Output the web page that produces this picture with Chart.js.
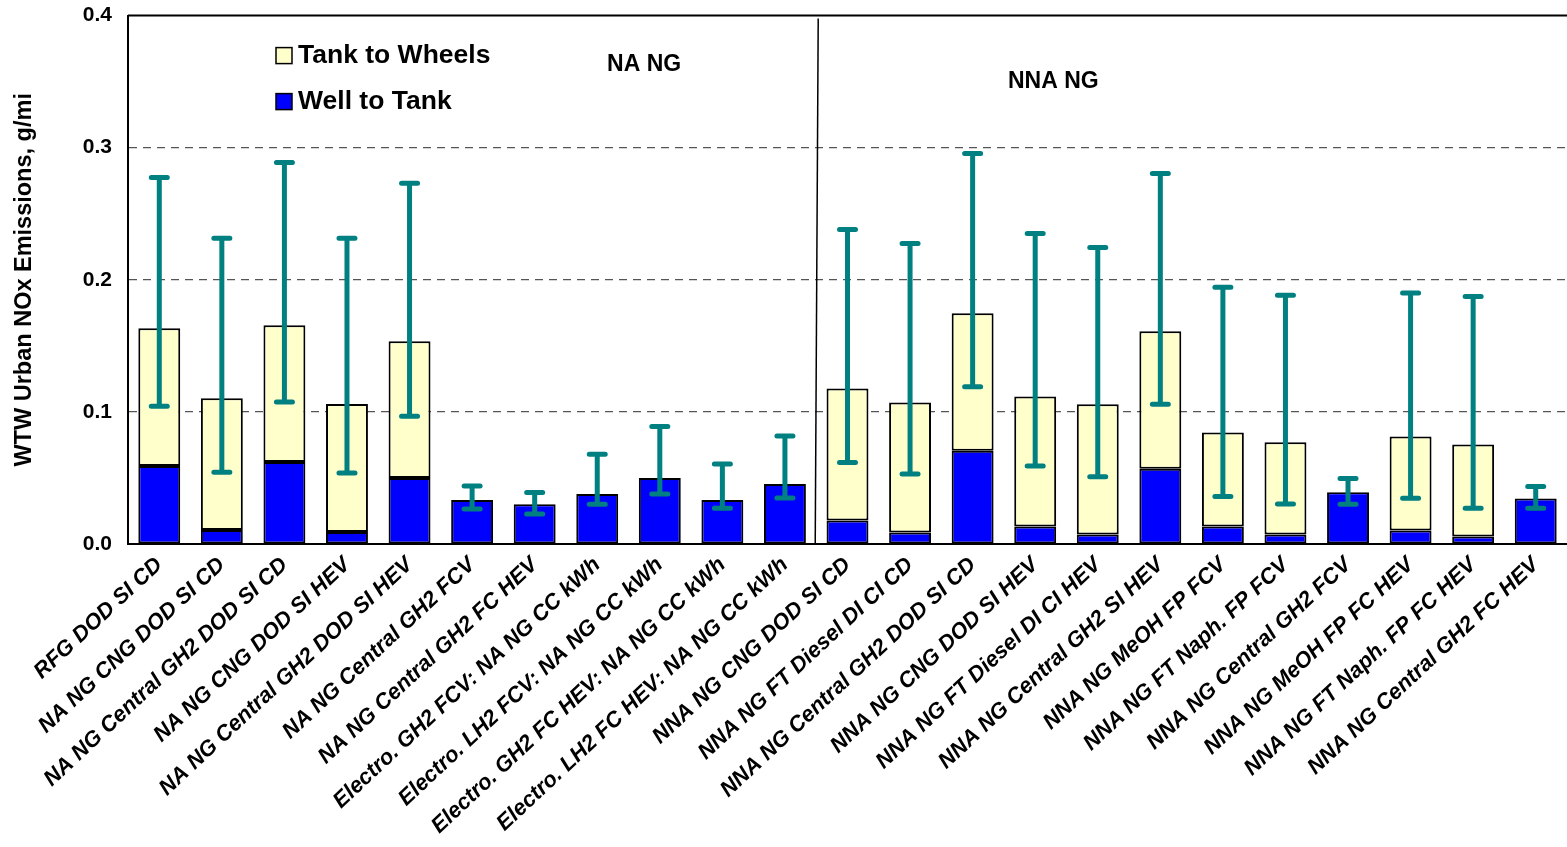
<!DOCTYPE html>
<html>
<head>
<meta charset="utf-8">
<title>WTW Urban NOx Emissions</title>
<script src="https://cdn.jsdelivr.net/npm/chart.js@4/dist/chart.umd.min.js"></script>
<style>
  html, body { margin: 0; padding: 0; background: #fff; overflow: hidden; }
  #wrap { width: 1567px; height: 847px; overflow: hidden; }
  /* chart.js keeps ~13px above the plot for the top tick label, so pull the canvas up */
  #noxChart { display: block; margin-top: -13px; }
</style>
</head>
<body>
<div id="wrap"><canvas id="noxChart" width="1567" height="860"></canvas></div>
<script>
// Pathway names along the x axis
const pathways = [
  "RFG DOD SI CD",
  "NA NG CNG DOD SI CD",
  "NA NG Central GH2 DOD SI CD",
  "NA NG CNG DOD SI HEV",
  "NA NG Central GH2 DOD SI HEV",
  "NA NG Central GH2 FCV",
  "NA NG Central GH2 FC HEV",
  "Electro. GH2 FCV: NA NG CC kWh",
  "Electro. LH2 FCV: NA NG CC kWh",
  "Electro. GH2 FC HEV: NA NG CC kWh",
  "Electro. LH2 FC HEV: NA NG CC kWh",
  "NNA NG CNG DOD SI CD",
  "NNA NG FT Diesel DI CI CD",
  "NNA NG Central GH2 DOD SI CD",
  "NNA NG CNG DOD SI HEV",
  "NNA NG FT Diesel DI CI HEV",
  "NNA NG Central GH2 SI HEV",
  "NNA NG MeOH FP FCV",
  "NNA NG FT Naph. FP FCV",
  "NNA NG Central GH2 FCV",
  "NNA NG MeOH FP FC HEV",
  "NNA NG FT Naph. FP FC HEV",
  "NNA NG Central GH2 FC HEV"
];

// Well to Tank part (bottom of each stack), g/mi
const wellToTank = [
  0.059, 0.0106, 0.062, 0.0091, 0.0499, 0.0333, 0.030, 0.0378, 0.050, 0.0333, 0.0454,
  0.0178, 0.0087, 0.0706, 0.0133, 0.0072, 0.057, 0.0133, 0.0072, 0.0392, 0.0102, 0.0057, 0.0345
];

// Tank to Wheels part (top of each stack), g/mi
const tankToWheels = [
  0.1043, 0.0998, 0.1036, 0.0968, 0.1036, 0, 0, 0, 0, 0, 0,
  0.100, 0.0985, 0.1041, 0.0984, 0.0985, 0.104, 0.0712, 0.0698, 0, 0.0712, 0.0697, 0
];

// Error bar range of the WTW total
const errLow = [
  0.1043, 0.0544, 0.1074, 0.0537, 0.0968, 0.0265, 0.0227, 0.030, 0.0378, 0.027, 0.0348,
  0.0617, 0.0529, 0.119, 0.059, 0.051, 0.1057, 0.036, 0.0302, 0.030, 0.0347, 0.027, 0.027
];
const errHigh = [
  0.2775, 0.2314, 0.2888, 0.2314, 0.273, 0.0439, 0.039, 0.068, 0.089, 0.0605, 0.0817,
  0.238, 0.2275, 0.2956, 0.235, 0.2245, 0.2805, 0.1943, 0.1883, 0.0496, 0.190, 0.1873, 0.0436
];

// y axis ticks
const yTicks = [0, 0.1, 0.2, 0.3, 0.4];

const FONT = "'Liberation Sans', Arial, Helvetica, sans-serif";
const TEAL = "#008080";

// Draws error bars, the NA / NNA divider, group labels, top frame and legend
const extrasPlugin = {
  id: "extras",
  afterDatasetsDraw(chart) {
    const ctx = chart.ctx;
    const x = chart.scales.x;
    const y = chart.scales.y;
    const area = chart.chartArea;

    // error bars
    ctx.save();
    ctx.strokeStyle = TEAL;
    ctx.lineCap = "round";
    ctx.lineWidth = 5;
    pathways.forEach((p, i) => {
      const px = x.getPixelForValue(i);
      const top = y.getPixelForValue(errHigh[i]);
      const bot = y.getPixelForValue(errLow[i]);
      ctx.beginPath();
      ctx.moveTo(px, top);
      ctx.lineTo(px, bot);
      ctx.moveTo(px - 8, top);
      ctx.lineTo(px + 8, top);
      ctx.moveTo(px - 8, bot);
      ctx.lineTo(px + 8, bot);
      ctx.stroke();
    });
    ctx.restore();

    // divider between the NA NG and NNA NG groups
    const divX = (x.getPixelForValue(10) + x.getPixelForValue(11)) / 2;
    ctx.save();
    ctx.strokeStyle = "#000";
    ctx.lineWidth = 1.5;
    ctx.beginPath();
    ctx.moveTo(divX + 2, area.top + 3);
    ctx.lineTo(divX - 1, area.bottom);
    ctx.stroke();

    // top frame line
    ctx.lineWidth = 2;
    ctx.beginPath();
    ctx.moveTo(area.left, area.top);
    ctx.lineTo(area.right, area.top);
    ctx.stroke();

    // group labels
    ctx.fillStyle = "#000";
    ctx.font = "bold 23px " + FONT;
    ctx.textAlign = "center";
    ctx.textBaseline = "middle";
    ctx.fillText("NA NG", x.getPixelForValue(7.75), y.getPixelForValue(0.3627));
    ctx.fillText("NNA NG", x.getPixelForValue(14.29), y.getPixelForValue(0.35));

    // legend, placed inside the plot near its top left
    const items = [
      { text: "Tank to Wheels", color: "#FFFFCC" },
      { text: "Well to Tank", color: "#0000FF" }
    ];
    ctx.font = "bold 26.5px " + FONT;
    ctx.textAlign = "left";
    items.forEach((item, k) => {
      const lx = area.left + 148;
      const ly = area.top + 40 + k * 46;
      ctx.fillStyle = item.color;
      ctx.fillRect(lx, ly - 8, 16, 16);
      ctx.strokeStyle = "#000";
      ctx.lineWidth = 1.5;
      ctx.strokeRect(lx, ly - 8, 16, 16);
      ctx.fillStyle = "#000";
      ctx.fillText(item.text, lx + 22, ly);
    });
    ctx.restore();
  }
};

const noxChart = new Chart(document.getElementById("noxChart"), {
  type: "bar",
  data: {
    labels: pathways,
    datasets: [
      {
        label: "Well to Tank",
        data: wellToTank,
        backgroundColor: "#0000FF",
        borderColor: "#000",
        borderWidth: 2,
        borderSkipped: false,
      },
      {
        label: "Tank to Wheels",
        data: tankToWheels,
        backgroundColor: "#FFFFCC",
        borderColor: "#000",
        borderWidth: 2,
        borderSkipped: false,
      },
    ],
  },
  options: {
    responsive: false,
    animation: false,
    layout: { padding: { top: 2, right: 0, left: 0, bottom: 0 } },
    datasets: {
      bar: { barPercentage: 0.67, categoryPercentage: 1.0 }
    },
    plugins: {
      legend: { display: false },
      tooltip: { enabled: false },
    },
    scales: {
      x: {
        stacked: true,
        grid: { display: false },
        border: { display: true, color: "#000", width: 2 },
        ticks: {
          color: "#000",
          autoSkip: false,
          minRotation: 43,
          maxRotation: 43,
          padding: 0,
          font: { family: FONT, size: 22, weight: "bold", style: "italic" },
        },
        afterFit(scale) { scale.height = 303; },
      },
      y: {
        stacked: true,
        min: 0,
        max: 0.4,
        afterBuildTicks(scale) { scale.ticks = yTicks.map(v => ({ value: v })); },
        grid: {
          color: ctx => (ctx.tick && (ctx.tick.value === 0 || ctx.tick.value === 0.4)) ? "rgba(0,0,0,0)" : "#555",
          lineWidth: 1.2,
          drawTicks: false,
        },
        border: { display: true, color: "#000", width: 2, dash: [8, 6] },
        ticks: {
          color: "#000",
          padding: 16,
          font: { family: FONT, size: 21, weight: "bold" },
          callback: v => v.toFixed(1),
        },
        title: {
          display: true,
          text: "WTW Urban NOx Emissions, g/mi",
          color: "#000",
          padding: { top: 10, bottom: 0 },
          font: { family: FONT, size: 23.5, weight: "bold" },
        },
        afterFit(scale) { scale.width = 128; },
      },
    },
  },
  plugins: [extrasPlugin],
});
</script>
</body>
</html>
